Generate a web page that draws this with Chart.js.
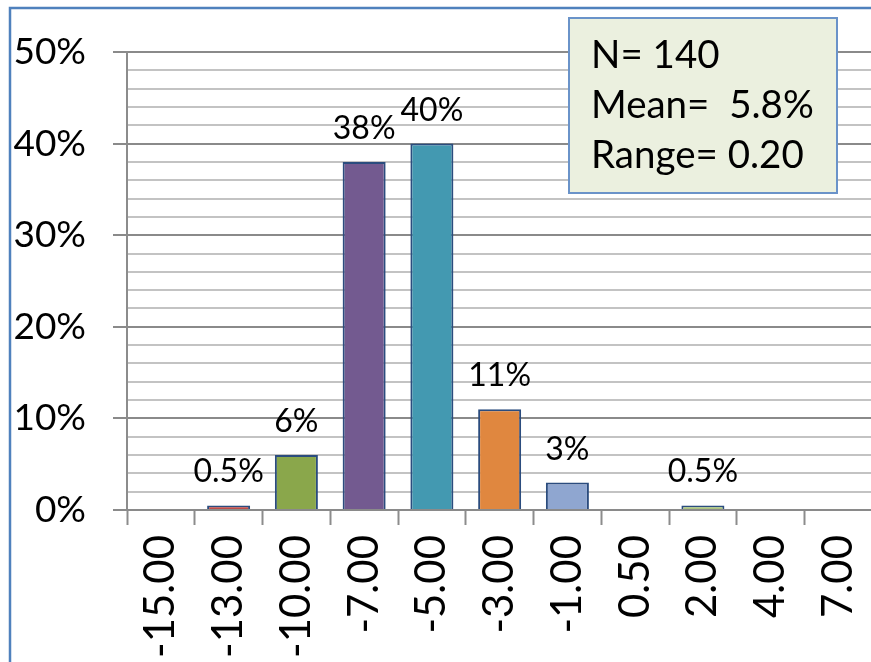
<!DOCTYPE html>
<html>
<head>
<meta charset="utf-8">
<script src="https://cdn.jsdelivr.net/npm/chart.js@4/dist/chart.umd.min.js"></script>
<style>
  html, body { margin: 0; padding: 0; overflow: hidden; background: #fff; }
  #c { display: block; }
</style>
</head>
<body>
<canvas id="c" width="900" height="662"></canvas>
<script>
const categories = ['-15.00', '-13.00', '-10.00', '-7.00', '-5.00', '-3.00', '-1.00', '0.50', '2.00', '4.00', '7.00']
const percents = [0, 0.5, 6, 38, 40, 11, 3, 0, 0.5, 0, 0]
const barColors = ['#4f81bd', '#bf4c49', '#8aa74b', '#735a90', '#4399b1', '#e0873f', '#8fa6d0', '#4f81bd', '#abc47e', '#4f81bd', '#4f81bd']
const yTickLabels = ['0%', '10%', '20%', '30%', '40%', '50%']
const statsLines = ['N= 140', 'Mean=  5.8%', 'Range= 0.20']

const FONT = 'Lato, Carlito, sans-serif'

const framePlugin = {
  id: 'frame',
  beforeDraw(chart) {
    const ctx = chart.ctx
    ctx.save()
    ctx.fillStyle = '#fff'
    ctx.fillRect(0, 0, chart.width, chart.height)
    ctx.strokeStyle = '#4f81bd'
    ctx.lineWidth = 2.5
    ctx.beginPath()
    ctx.moveTo(10, chart.height)
    ctx.lineTo(10, 8)
    ctx.lineTo(chart.width, 8)
    ctx.stroke()
    ctx.restore()
  },
  afterDraw(chart) {
    // stats box
    const ctx = chart.ctx
    ctx.save()
    ctx.fillStyle = '#ebf0df'
    ctx.fillRect(569, 18, 268, 175)
    ctx.strokeStyle = '#6a93c9'
    ctx.lineWidth = 2
    ctx.strokeRect(569, 18, 268, 175)
    ctx.fillStyle = '#000'
    ctx.font = '38.5px ' + FONT
    ctx.textBaseline = 'alphabetic'
    ctx.textAlign = 'left'
    statsLines.forEach((line, i) => {
      ctx.fillText(line, 591, 68 + i * 50)
    })
    ctx.restore()
  },
}

const valueLabels = {
  id: 'valueLabels',
  afterDatasetsDraw(chart) {
    const ctx = chart.ctx
    const meta = chart.getDatasetMeta(0)
    ctx.save()
    ctx.fillStyle = '#000'
    ctx.font = '32px ' + FONT
    ctx.textAlign = 'center'
    ctx.textBaseline = 'alphabetic'
    meta.data.forEach((bar, i) => {
      const v = percents[i]
      if (!v) return
      ctx.fillText(v + '%', bar.x, bar.y - 23)
    })
    ctx.restore()
  },
}

const isMajor = (v) => v % 10 === 0

new Chart(document.getElementById('c'), {
  type: 'bar',
  data: {
    labels: categories,
    datasets: [
      {
        data: percents,
        backgroundColor: barColors,
        borderColor: '#2b4c7e',
        borderWidth: 2,
        borderSkipped: 'start',
        categoryPercentage: 1,
        barPercentage: 0.635,
      },
    ],
  },
  options: {
    responsive: false,
    animation: false,
    layout: { padding: { top: 52, right: 26, left: 0, bottom: 0 } },
    plugins: {
      legend: { display: false },
      tooltip: { enabled: false },
    },
    scales: {
      x: {
        afterFit: (s) => { s.height = 152 },
        grid: {
          offset: true,
          drawOnChartArea: false,
          drawTicks: true,
          tickLength: 15,
          tickColor: '#8c8c8c',
          tickWidth: 2,
        },
        border: { display: true, color: '#8a8a8a', width: 2 },
        ticks: {
          autoSkip: false,
          minRotation: 90,
          maxRotation: 90,
          padding: 10,
          color: '#000',
          font: { family: FONT, size: 42 },
        },
      },
      y: {
        min: 0,
        max: 50,
        afterFit: (s) => { s.width = 127 },
        grid: {
          color: (c) => (isMajor(c.tick.value) ? '#8a8a8a' : '#c3c3c3'),
          lineWidth: 2,
          tickLength: 14,
          tickColor: (c) => (isMajor(c.tick.value) ? '#8a8a8a' : 'rgba(0,0,0,0)'),
        },
        border: { display: true, color: '#8c8c8c', width: 2 },
        ticks: {
          stepSize: 2,
          maxTicksLimit: 40,
          autoSkip: false,
          padding: 27,
          color: '#000',
          font: { family: FONT, size: 37 },
          callback: (v) => (isMajor(v) ? yTickLabels[v / 10] : ''),
        },
      },
    },
  },
  plugins: [framePlugin, valueLabels],
})
</script>
</body>
</html>
